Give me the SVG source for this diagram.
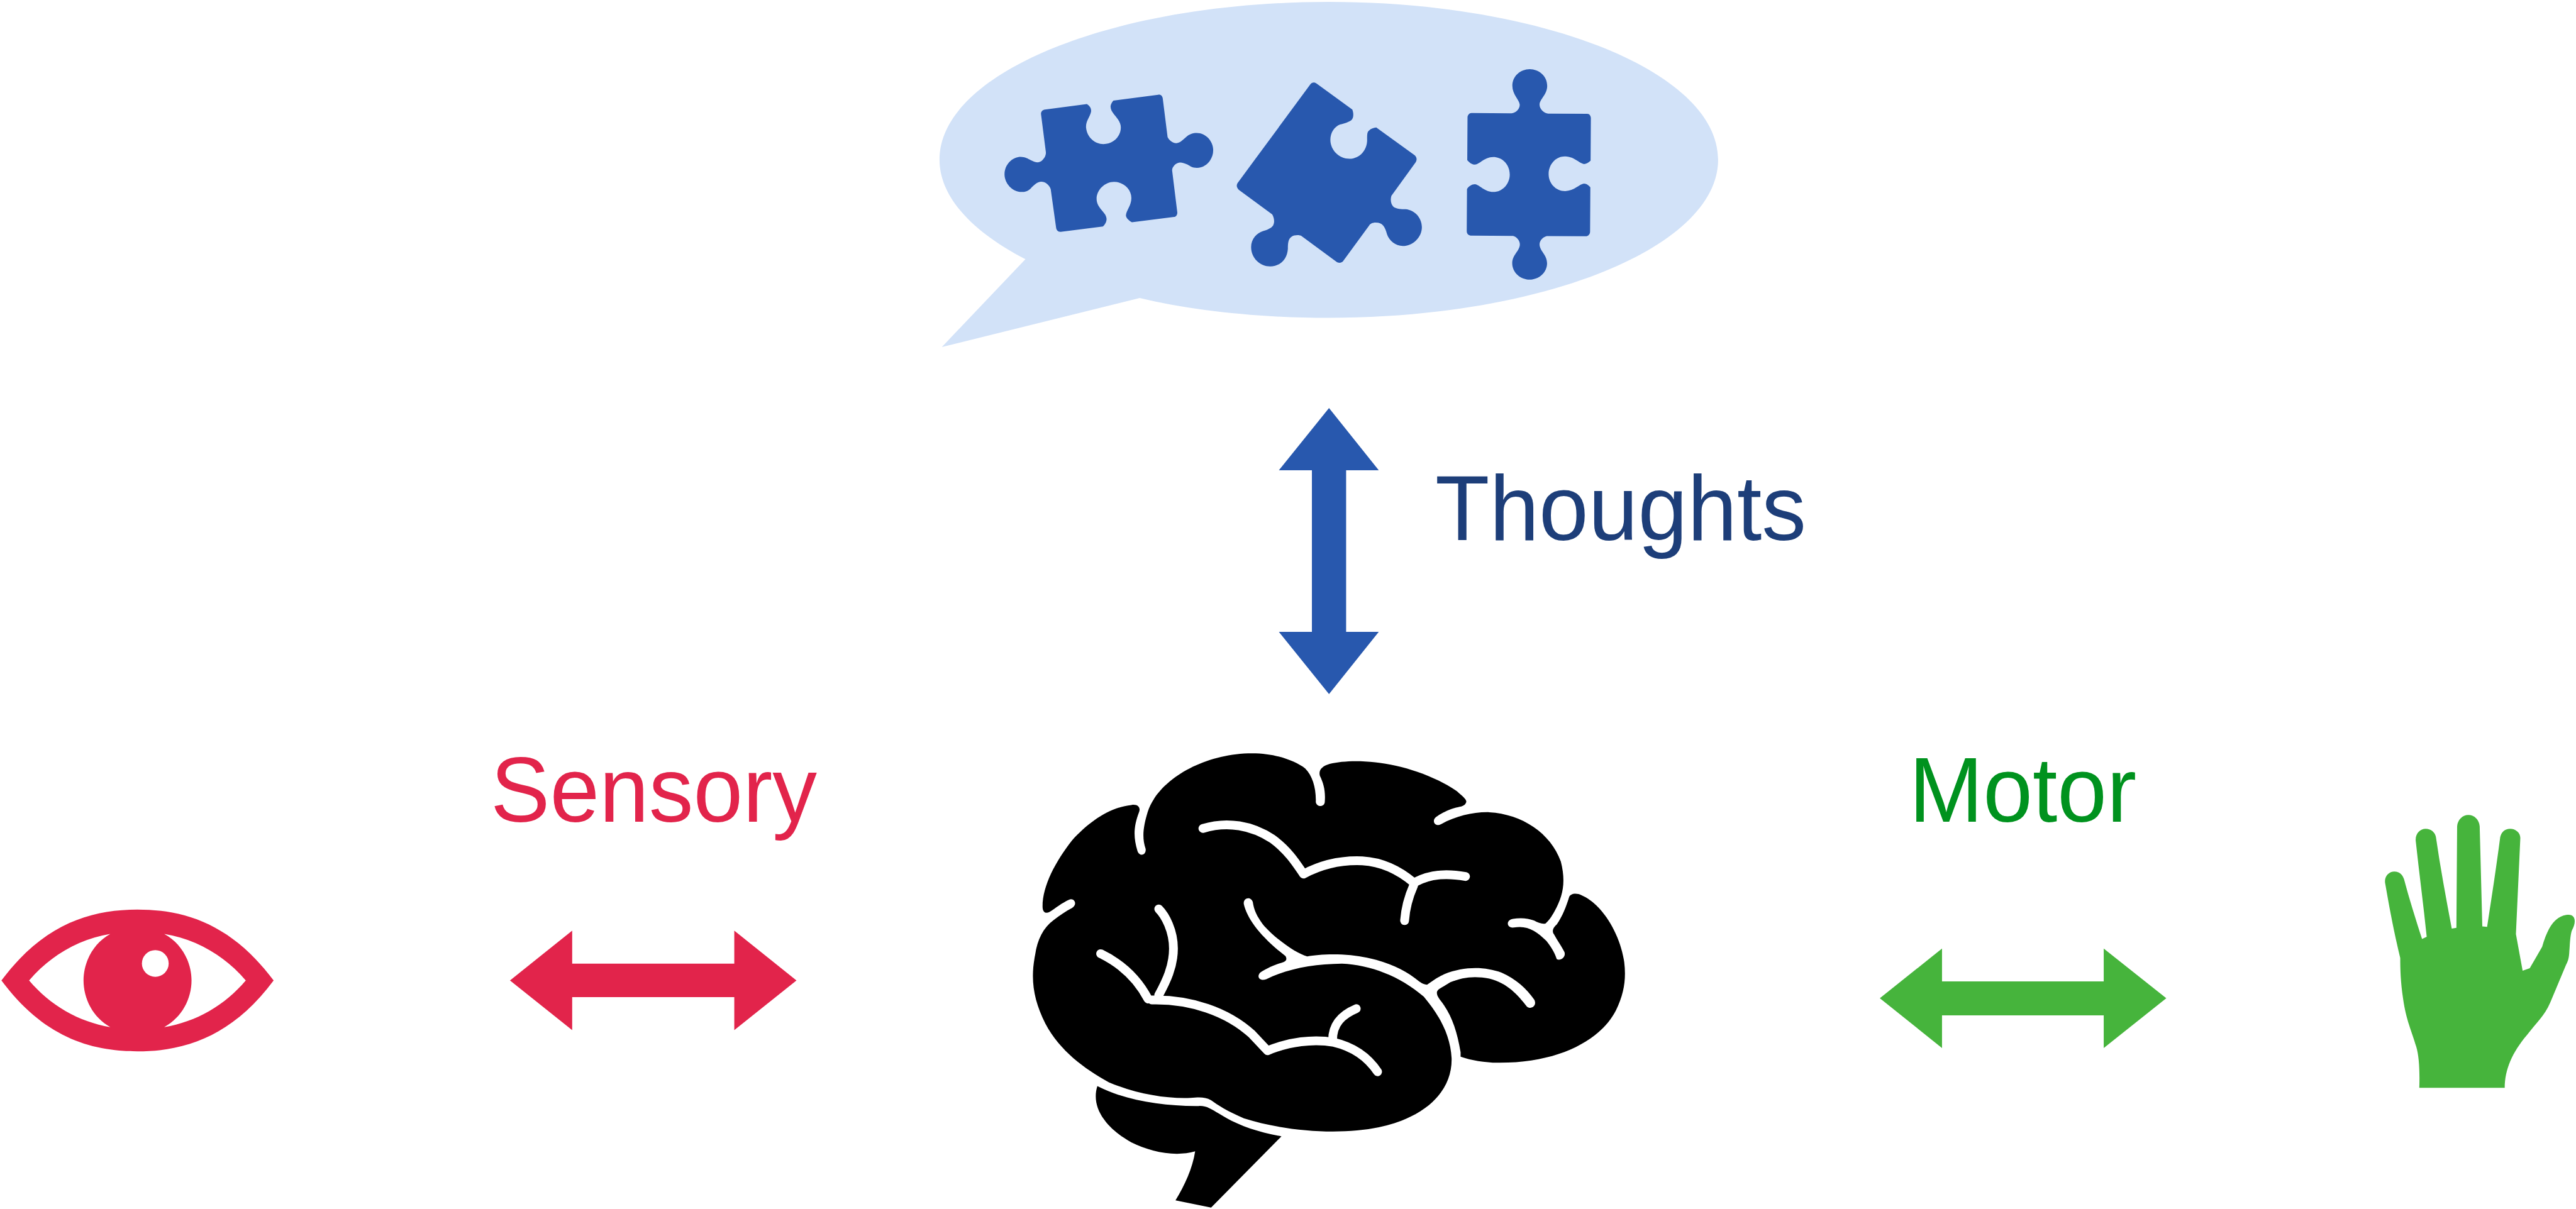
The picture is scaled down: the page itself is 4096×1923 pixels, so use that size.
<svg xmlns="http://www.w3.org/2000/svg" width="4096" height="1923" viewBox="0 0 4096 1923">
<style>
.t{font-family:"Liberation Sans",Arial,Helvetica,sans-serif;font-size:238px}
.puzzle{fill:#2858ae}
.gap{fill:none;stroke:#fff;stroke-width:14;stroke-linecap:round;stroke-linejoin:round;vector-effect:non-scaling-stroke}
</style>
<rect width="4096" height="1923" fill="#fff"/>
<g transform="scale(0.61808)">
<g id="thought-bubble">
<path fill="#d2e2f8" d="M2638 667C2503 597 2417 508 2417 411C2417 186 2865 5 3418 5C3971 5 4420 186 4420 411C4420 636 3971 818 3418 818C3236 818 3066 799 2932 767L2423 893Z"/>
<g transform="translate(2560 150) scale(.7334 .3827)">
<path id="puzzle-1" class="puzzle" d="M175 345L322 308C335 325 340 345 335 370C330 400 318 425 319 465C322 530 350 577 380 577C415 577 441 525 441 465C441 405 405 375 405 325C405 310 410 295 415 284L572 245C582 243 587 255 588 270L605 530C610 550 622 572 636 571C650 570 660 545 670 530C680 510 695 502 707 502C740 502 766 560 765 620C765 680 740 737 708 737C690 737 685 725 675 715C665 707 655 700 648 701C632 703 620 735 621 755L639 1035C640 1050 635 1065 628 1067L480 1103C468 1090 458 1070 459 1055C460 1025 478 990 478 940C478 880 450 831 417 831C385 831 356 885 356 945C356 1010 391 1035 391 1080C391 1100 385 1120 378 1131L230 1167C220 1168 215 1155 214 1140L195 880C190 850 175 830 162 830C148 830 135 855 125 875C115 893 105 899 93 899C60 899 33 840 33 780C33 715 60 663 90 663C105 663 115 675 125 685C133 693 142 700 150 700C165 698 180 660 178 630L161 375C161 360 165 348 175 345Z"/>
<path id="puzzle-2" class="puzzle" d="M1106 175C1110 162 1120 158 1128 170L1253 345C1258 370 1258 400 1250 415C1240 430 1225 437 1210 445C1190 460 1176 500 1176 548C1176 620 1208 676 1243 676C1280 676 1305 615 1305 550C1305 510 1305 495 1312 485C1318 473 1328 467 1337 465L1472 652C1480 665 1480 685 1475 700L1390 925C1385 960 1390 985 1398 1000C1408 1013 1425 1015 1440 1015C1470 1020 1497 1070 1497 1135C1497 1205 1465 1262 1430 1262C1405 1262 1382 1225 1375 1185C1368 1135 1360 1105 1335 1105C1322 1105 1315 1115 1312 1125L1222 1360C1218 1375 1205 1380 1197 1368L1075 1195C1070 1188 1050 1185 1040 1200C1028 1215 1027 1245 1027 1280C1025 1350 1000 1400 965 1400C930 1400 898 1345 898 1270C898 1215 918 1175 940 1162C955 1155 970 1140 975 1125C982 1100 978 1070 972 1050L855 885C847 870 846 855 850 840Z"/>
</g>
<g transform="translate(3700 150) scale(.3333 .3827)">
<path id="puzzle-3" class="puzzle" d="M256 368L565 370C600 368 630 340 629 312C628 280 572 245 572 185C572 120 635 73 706 73C777 73 841 120 841 185C841 245 782 275 782 312C782 340 815 370 850 372L1150 373C1168 373 1178 388 1178 402L1176 688C1160 702 1140 711 1125 711C1090 708 1050 660 978 660C905 660 852 715 852 778C852 840 905 893 980 893C1050 893 1090 845 1125 843C1143 843 1162 855 1174 868L1172 1165C1172 1185 1155 1197 1140 1197L838 1195C810 1200 782 1225 782 1250C782 1295 840 1320 840 1378C840 1440 777 1488 705 1488C635 1488 571 1440 571 1378C571 1320 630 1295 630 1250C630 1225 605 1200 578 1194L250 1192C235 1192 220 1180 220 1163L222 880C235 860 260 847 283 847C320 850 355 899 425 899C495 899 552 845 552 782C552 715 495 664 425 664C355 664 320 713 283 715C260 715 238 700 224 685L226 398C226 382 240 368 256 368Z"/>
</g>
</g>
<g id="brain" transform="translate(2600 1900) scale(1.0523 .773)">
<path fill="#000" d="M590 50C650 50 695 75 720 100C738 125 747 165 746 212C748 230 768 230 768 210C770 175 765 150 756 125C752 105 762 92 780 85C850 62 985 80 1090 175C1102 190 1118 205 1113 215C1110 228 1095 228 1085 232C1065 240 1050 252 1040 262C1028 275 1038 296 1052 286C1090 258 1130 245 1170 246C1250 252 1320 315 1345 410C1358 480 1350 525 1330 575C1322 595 1315 608 1308 616C1302 620 1290 615 1280 607C1265 598 1245 597 1228 601C1210 605 1212 632 1230 630C1262 622 1285 640 1310 675C1325 700 1332 722 1335 735C1343 742 1358 730 1354 712C1348 695 1335 670 1328 652C1322 640 1328 628 1335 620C1350 590 1358 560 1365 530C1368 515 1385 515 1395 522C1445 550 1490 650 1500 745C1505 800 1500 850 1480 905C1445 1000 1345 1082 1190 1080C1160 1080 1125 1072 1100 1060L1100 1045C1092 980 1080 930 1060 890C1050 870 1042 860 1042 847C1042 835 1055 830 1075 812C1105 795 1135 790 1170 800C1215 815 1240 855 1262 893C1272 905 1288 890 1280 870C1262 835 1235 800 1200 780C1160 760 1110 758 1060 785C1040 798 1030 810 1018 820C1005 818 1000 810 985 795C950 760 890 725 810 720C770 718 745 722 725 726C700 718 650 670 620 625C600 590 595 570 592 545C587 525 568 530 570 552C578 600 610 660 672 725C678 740 670 745 655 750C635 760 620 770 610 780C600 795 610 810 625 802C680 765 740 752 810 750C880 755 950 790 1010 860C1050 925 1075 990 1078 1065C1080 1170 1020 1260 900 1295C810 1320 680 1312 570 1265C530 1242 505 1220 490 1205C475 1193 460 1195 440 1197C380 1200 310 1185 240 1145C180 1100 120 1040 85 950C55 870 48 800 60 720C65 670 80 630 105 605C120 590 135 575 150 565C165 552 155 530 143 537C125 548 110 565 95 578C85 585 78 578 78 560C78 490 110 410 150 340C190 280 240 230 295 222C312 218 318 232 314 245C300 295 300 330 310 375C315 395 332 390 330 368C320 330 325 290 335 245C360 140 470 50 590 50Z"/>
<path fill="#000" d="M212 1158C280 1205 370 1225 460 1224C480 1223 490 1235 510 1250C550 1285 600 1310 662 1325L490 1562L403 1538C425 1490 445 1430 451 1375C400 1395 340 1375 295 1345C235 1300 195 1230 212 1158Z"/>
<path class="gap" d="M470 300C530 275 590 290 640 335C680 375 700 420 716 452C760 420 810 405 860 408C910 412 950 440 985 480"/>
<path class="gap" d="M990 478C1030 450 1070 450 1112 460"/>
<path class="gap" d="M985 490C972 530 965 570 963 607"/>
<path class="gap" d="M362 568C378 590 398 640 398 700C398 760 380 810 362 855"/>
<path class="gap" d="M220 717C270 750 310 800 336 868"/>
<path class="gap" d="M345 871C440 868 530 910 590 985L628 1040C680 1010 740 1000 790 1012C840 1028 875 1065 897 1110"/>
<path class="gap" d="M845 900C810 920 787 950 787 1005"/>
</g>
<g id="eye" transform="translate(0 2280) scale(.4592 .3333)">
<path fill="#e2244b" fill-rule="evenodd" d="M8 730C240 300 500 182 770 182C1040 182 1300 300 1533 730C1300 1160 1040 1277 770 1277C500 1277 240 1160 8 730ZM163 730C280 920 440 1050 618 1090C520 1015 468 870 468 730C468 590 520 445 618 370C440 410 280 540 163 730ZM1377 730C1260 540 1100 410 920 370C1020 445 1073 590 1073 730C1073 870 1020 1015 920 1090C1100 1050 1260 920 1377 730Z"/>
<ellipse cx="870" cy="598" rx="75" ry="103" fill="#fff"/>
</g>
<g id="hand" transform="translate(6040 2060) scale(.3744 .4911)">
<path fill="#46b43c" d="M491 1506C495 1420 490 1340 470 1290C440 1210 400 1150 380 1040C362 950 360 880 360 825C320 700 285 560 258 440C245 400 280 372 320 372C350 372 375 385 386 412C420 510 465 620 510 726L542 714C520 550 490 380 467 215C460 175 495 148 535 148C570 148 598 165 605 190C635 350 675 510 714 671L746 667L751 135C755 100 790 76 828 76C868 76 902 100 906 135L924 660L957 662C990 500 1020 350 1047 192C1055 165 1080 148 1115 148C1155 148 1188 170 1185 200L1155 700L1201 892L1250 879L1335 767C1380 650 1430 610 1500 600C1570 590 1570 640 1540 680C1525 710 1525 780 1522 790C1520 830 1510 845 1500 860L1390 1060C1350 1130 1300 1160 1230 1230C1130 1320 1078 1410 1078 1506Z"/>
</g>
<g id="connectors">
<path id="arrow-thoughts" fill="#2858ae" d="M3419 1050L3547 1210H3463V1626H3547L3419 1786L3290 1626H3375V1210H3290Z"/>
<path id="arrow-sensory" fill="#e2244b" d="M1312 2523L1472 2395V2480H1889V2395L2049 2523L1889 2651V2566H1472V2651Z"/>
<path id="arrow-motor" fill="#46b43c" d="M4836 2569L4996 2441V2525.5H5412V2441L5573 2569L5412 2697V2613H4996V2697Z"/>
</g>
<g id="label-thoughts"><text class="t" transform="translate(3692 1390) scale(.962 1)" fill="#1d3e79">Thoughts</text></g>
<g id="label-sensory"><text class="t" transform="translate(1262 2114) scale(.962 1)" fill="#e2244b">Sensory</text></g>
<g id="label-motor"><text class="t" transform="translate(4911 2114) scale(.962 1)" fill="#00921e">Motor</text></g>
</g>
</svg>
